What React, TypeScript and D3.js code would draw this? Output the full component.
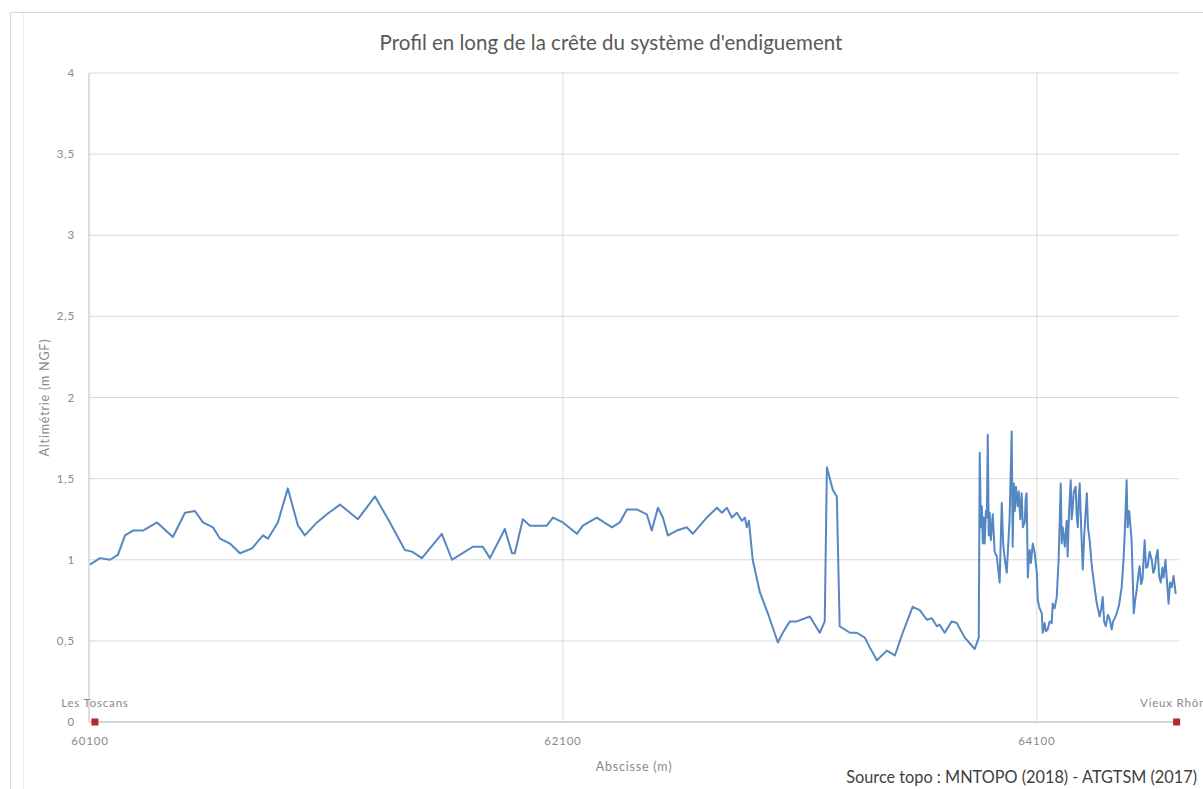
import React from 'react';
import * as d3 from 'd3';

// Abscisse (m) and crest elevation (m NGF)
const abscisse = [
  60104, 60146, 60189, 60222, 60252, 60286, 60328, 60387, 60454, 60505, 60547, 60581, 60623, 60653, 60695,
  60737, 60788, 60834, 60855, 60897, 60939, 60982, 61011, 61062, 61104, 61159, 61235, 61307, 61370, 61433,
  61463, 61505, 61589, 61632, 61665, 61720, 61762, 61792, 61855, 61885, 61897, 61931, 61961, 62032, 62058,
  62100, 62159, 62184, 62243, 62307, 62340, 62370, 62412, 62454, 62475, 62501, 62522, 62543, 62581, 62623,
  62648, 62707, 62750, 62771, 62792, 62813, 62834, 62855, 62868, 62876, 62885, 62901, 62931, 62965, 63007,
  63028, 63058, 63087, 63142, 63184, 63205, 63214, 63239, 63256, 63268, 63311, 63340, 63374, 63395, 63425,
  63467, 63501, 63534, 63576, 63606, 63636, 63657, 63678, 63690, 63711, 63741, 63762, 63796, 63838, 63855,
  63859, 63864, 63868, 63872, 63876, 63880, 63885, 63889, 63893, 63897, 63901, 63906, 63910, 63914, 63922,
  63931, 63943, 63952, 63958, 63965, 63973, 63985, 63994, 63998, 64003, 64007, 64012, 64019, 64024, 64030,
  64036, 64041, 64049, 64053, 64057, 64062, 64066, 64070, 64075, 64083, 64091, 64100, 64104, 64112, 64121,
  64125, 64133, 64138, 64146, 64154, 64163, 64167, 64175, 64184, 64192, 64201, 64205, 64209, 64213, 64218,
  64226, 64230, 64236, 64243, 64247, 64251, 64256, 64264, 64268, 64273, 64277, 64281, 64287, 64294, 64300,
  64311, 64316, 64323, 64332, 64342, 64353, 64365, 64372, 64378, 64384, 64391, 64400, 64408, 64416, 64422,
  64429, 64437, 64447, 64458, 64466, 64471, 64479, 64483, 64490, 64500, 64509, 64515, 64521, 64528, 64534,
  64540, 64546, 64555, 64561, 64568, 64576, 64585, 64591, 64597, 64604, 64610, 64616, 64623, 64630, 64635,
  64643, 64650, 64656, 64662, 64669, 64677, 64686,
];
const altitude = [
  0.97, 1.01, 1.0, 1.03, 1.15, 1.18, 1.18, 1.23, 1.14, 1.29, 1.3, 1.23, 1.2, 1.13, 1.1,
  1.04, 1.07, 1.15, 1.13, 1.23, 1.44, 1.21, 1.15, 1.23, 1.28, 1.34, 1.25, 1.39, 1.23, 1.06,
  1.05, 1.01, 1.16, 1.0, 1.03, 1.08, 1.08, 1.01, 1.19, 1.04, 1.04, 1.25, 1.21, 1.21, 1.26,
  1.23, 1.16, 1.21, 1.26, 1.2, 1.23, 1.31, 1.31, 1.28, 1.18, 1.32, 1.26, 1.15, 1.18, 1.2,
  1.16, 1.26, 1.32, 1.29, 1.32, 1.26, 1.29, 1.24, 1.26, 1.2, 1.24, 1.0, 0.8, 0.67, 0.49,
  0.55, 0.62, 0.62, 0.65, 0.55, 0.62, 1.57, 1.43, 1.39, 0.59, 0.55, 0.55, 0.52, 0.46, 0.38,
  0.44, 0.41, 0.55, 0.71, 0.69, 0.63, 0.64, 0.59, 0.6, 0.55, 0.62, 0.61, 0.52, 0.45, 0.52,
  1.66, 1.2, 1.33, 1.1, 1.26, 1.1, 1.3, 1.26, 1.77, 1.15, 1.29, 1.12, 1.2, 1.28, 1.05,
  1.02, 0.86, 1.35, 1.1, 1.0, 0.92, 1.25, 1.79, 1.08, 1.47, 1.3, 1.45, 1.33, 1.42, 1.25,
  1.41, 1.2, 1.23, 1.38, 1.41, 0.89, 1.0, 1.06, 0.98, 1.1, 1.04, 0.92, 0.75, 0.7, 0.67,
  0.55, 0.61, 0.56, 0.57, 0.62, 0.61, 0.73, 0.7, 0.77, 1.0, 1.47, 1.1, 1.2, 1.16, 1.08,
  1.24, 1.02, 1.3, 1.49, 1.25, 1.31, 1.42, 1.45, 1.28, 1.2, 1.38, 1.47, 1.2, 0.94, 1.15,
  1.41, 1.2, 1.12, 0.96, 0.85, 0.73, 0.65, 0.7, 0.77, 0.62, 0.59, 0.66, 0.63, 0.57, 0.62,
  0.64, 0.67, 0.72, 0.83, 1.0, 1.16, 1.49, 1.2, 1.3, 1.12, 0.67, 0.75, 0.81, 0.9, 0.96,
  0.85, 0.88, 1.12, 0.95, 0.96, 1.05, 1.0, 0.92, 0.94, 1.02, 1.06, 0.9, 0.86, 0.95, 0.89,
  1.0, 0.85, 0.73, 0.86, 0.83, 0.9, 0.79,
];

const yTicks = [0, 0.5, 1, 1.5, 2, 2.5, 3, 3.5, 4];
const xTicks = [60100, 62100, 64100];
const markerLabels = ['Les Toscans', 'Vieux Rhône'];
const markerX = [60125, 64690];
const markerY = [0, 0];

const titleText = "Profil en long de la crête du système d'endiguement";
const xTitle = 'Abscisse (m)';
const yTitle = 'Altimétrie (m NGF)';
const sourceText = 'Source topo : MNTOPO (2018) - ATGTSM (2017)';

export default function App() {
  const W = 1203;
  const H = 789;
  const x = d3.scaleLinear().domain([60100, 64700]).range([89, 1179]);
  const y = d3.scaleLinear().domain([0, 4]).range([722, 73]);
  const line = d3
    .line<number>()
    .x((_, i) => x(abscisse[i]))
    .y((d) => y(d));
  const font = "Lato, 'Open Sans', sans-serif";
  const fmt = (v: number) => String(v).replace('.', ',');
  const [x0, x1] = x.range();
  const small = { fontSize: 11.5, fill: '#8a8a8a', letterSpacing: 0.8 } as const;

  return (
    <svg
      width={W}
      height={H}
      style={{ position: 'absolute', left: 0, top: 0, background: '#fff' }}
      fontFamily={font}
    >
      <rect x={0} y={0} width={W} height={H} fill="#fff" />
      <rect x={10.5} y={12.5} width={1400} height={900} fill="none" stroke="#d9d9d9" strokeWidth={1} />
      <line x1={23.5} x2={23.5} y1={13} y2={H} stroke="#f0f0f0" strokeWidth={1} />

      <text x={611} y={50} textAnchor="middle" fontSize={20.5} fill="#595959">
        {titleText}
      </text>

      {/* horizontal gridlines */}
      {yTicks.slice(1).map((t) => (
        <line key={'gy' + t} x1={x0} x2={x1} y1={y(t)} y2={y(t)} stroke="#d9d9d9" strokeWidth={1} />
      ))}
      {/* vertical gridlines */}
      {xTicks.slice(1).map((t) => (
        <line key={'gx' + t} x1={x(t)} x2={x(t)} y1={y(4)} y2={y(0)} stroke="#d9d9d9" strokeWidth={1} />
      ))}
      {/* axes */}
      <line x1={x0} x2={x0} y1={y(4)} y2={y(0)} stroke="#c8c8c8" strokeWidth={1.2} />
      <line x1={x0} x2={x1} y1={y(0)} y2={y(0)} stroke="#c8c8c8" strokeWidth={1.5} />

      {yTicks.map((t) => (
        <text key={'ty' + t} x={75} y={y(t) + 4} textAnchor="end" {...small}>
          {fmt(t)}
        </text>
      ))}
      {xTicks.map((t) => (
        <text key={'tx' + t} x={t === 60100 ? 90 : x(t)} y={745} textAnchor="middle" {...small}>
          {t}
        </text>
      ))}

      <text x={(x0 + x1) / 2} y={771} textAnchor="middle" {...small} fontSize={12.5}>
        {xTitle}
      </text>
      <text
        transform={`translate(49, ${(y(0) + y(4)) / 2}) rotate(-90)`}
        textAnchor="middle"
        {...small}
        fontSize={12.5}
      >
        {yTitle}
      </text>

      <path d={line(altitude) || ''} fill="none" stroke="#5587c2" strokeWidth={2} strokeLinejoin="round" />

      {markerLabels.map((lab, i) => (
        <g key={lab}>
          <rect x={x(markerX[i]) - 3.5} y={y(markerY[i]) - 3.5} width={7} height={7} fill="#b02a2a" />
          <text x={x(markerX[i])} y={y(markerY[i]) - 15} textAnchor="middle" {...small}>
            {lab}
          </text>
        </g>
      ))}

      <text x={1197} y={783} textAnchor="end" fontSize={16.3} fill="#404040">
        {sourceText}
      </text>
    </svg>
  );
}
